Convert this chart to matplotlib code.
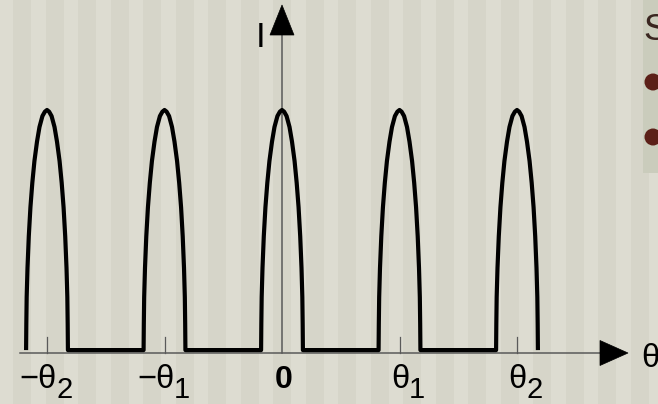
import matplotlib
matplotlib.use("Agg")
import matplotlib.pyplot as plt
from matplotlib.patches import Polygon, Rectangle, Ellipse

# ---------------- data ----------------
peak_centers = [-2, -1, 0, 1, 2]           # in units of theta_1
tick_positions = [-2, -1, 1, 2]
label_positions = [-2, -1, 0, 1, 2]
label_main = ["\u2212\u03b8", "\u2212\u03b8", "0", "\u03b8", "\u03b8"]
label_sub = ["2", "1", "", "1", "2"]
# one peak profile: offset from peak centre (theta units) and intensity
profile_dtheta = [-0.178, -0.176, -0.173, -0.166, -0.155, -0.141, -0.125,
                  -0.107, -0.085, -0.064, -0.039, -0.018, 0.0,
                  0.018, 0.039, 0.064, 0.085, 0.107, 0.125, 0.141, 0.155,
                  0.166, 0.173, 0.176, 0.178]
profile_I = [0.012, 0.12, 0.23, 0.35, 0.48, 0.60, 0.70,
             0.79, 0.87, 0.93, 0.975, 0.993, 1.0,
             0.993, 0.975, 0.93, 0.87, 0.79, 0.70, 0.60, 0.48,
             0.35, 0.23, 0.12, 0.012]

# ---------------- figure geometry ----------------
W, H = 658, 404
X0, Y0 = 282.0, 353.0        # pixel position of origin
SX, SY = 117.5, 243.0        # pixels per theta unit / per intensity unit

def px2x(px):
    return (px - X0) / SX

def px2y(py):
    return (Y0 - py) / SY

fig = plt.figure(figsize=(W / 100, H / 100), dpi=100)
ax = fig.add_axes([0, 0, 1, 1])
ax.set_xlim(px2x(0), px2x(W))
ax.set_ylim(px2y(H), px2y(0))
ax.axis("off")

# background with vertical stripes
ax.add_patch(Rectangle((px2x(0), px2y(H)), px2x(W) - px2x(0), px2y(0) - px2y(H),
                       facecolor="#dddcd1", edgecolor="none", zorder=0))
p = 13.0
while p < W:
    ax.axvspan(px2x(p), px2x(p + 18), color="#d6d5c9", lw=0, zorder=0.5)
    p += 32.5

# right-hand panel (cut-off slide text)
ax.add_patch(Rectangle((px2x(643), px2y(173)), px2x(W) - px2x(643), px2y(0) - px2y(173),
                       facecolor="#caccbc", edgecolor="none", zorder=0.8))
ax.text(px2x(643), px2y(40), "S", fontsize=26, color="#3a2620",
        family="Liberation Sans", ha="left", va="baseline", zorder=3)
for cy in (82, 137):
    ax.add_patch(Ellipse((px2x(653), px2y(cy)), 17 / SX, 17 / SY,
                         facecolor="#5c2018", edgecolor="none", zorder=3))

# axes lines
axis_col = "#5a5a5a"
ax.plot([px2x(20), px2x(602)], [0, 0], color=axis_col, lw=1.1, zorder=2)
ax.plot([0, 0], [0, px2y(33)], color=axis_col, lw=1.1, zorder=2)
ax.add_patch(Polygon([(px2x(628), 0), (px2x(600), px2y(340.5)), (px2x(600), px2y(365.5))],
                     closed=True, facecolor="black", edgecolor="black", lw=0.5, zorder=4))
ax.add_patch(Polygon([(0, px2y(5)), (px2x(270), px2y(35)), (px2x(294), px2y(35))],
                     closed=True, facecolor="black", edgecolor="black", lw=0.5, zorder=4))
for t in tick_positions:
    ax.plot([t, t], [0, px2y(337)], color=axis_col, lw=0.9, zorder=2)

# intensity curve
xs, ys = [], []
for c in peak_centers:
    for d, v in zip(profile_dtheta, profile_I):
        xs.append(c + d)
        ys.append(v)
ax.plot(xs, ys, color="black", lw=3.0, solid_joinstyle="round",
        solid_capstyle="butt", zorder=3)

# labels
for pos, m, s in zip(label_positions, label_main, label_sub):
    if s == "":
        ax.text(pos + 1.5 / SX, px2y(388), m, fontsize=23, fontweight="bold",
                family="Liberation Sans", ha="center", va="baseline", zorder=3)
    else:
        split = pos + 9 / SX
        ax.text(split + 1 / SX, px2y(388), m, fontsize=23.5,
                family="Liberation Sans", ha="right", va="baseline", zorder=3)
        ax.text(split, px2y(398), s, fontsize=21,
                family="Liberation Sans", ha="left", va="baseline", zorder=3)

ax.text(px2x(256), px2y(47), "I", fontsize=25, family="Liberation Sans",
        ha="left", va="baseline", zorder=3)
ax.text(px2x(641), px2y(367), "\u03b8", fontsize=23.5, family="Liberation Sans",
        ha="left", va="baseline", zorder=3)

fig.savefig("out.png", dpi=100)
